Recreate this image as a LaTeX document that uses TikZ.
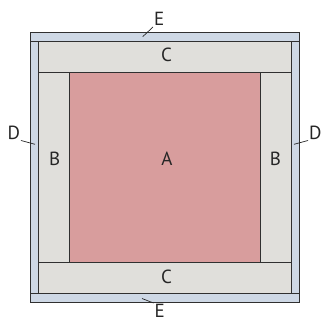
\documentclass[tikz,border=0pt]{standalone}
\usepackage{fontspec}
\setmainfont{PT Sans}
\usetikzlibrary{positioning}
\definecolor{frameblue}{HTML}{CED8E5}
\definecolor{stripgray}{HTML}{E0DFDB}
\definecolor{corepink}{HTML}{D89D9D}
\definecolor{edgegray}{HTML}{303030}

\begin{document}
\begin{tikzpicture}[x=1pt, y=-1pt,
  part/.style={draw=edgegray, line width=0.9pt, inner sep=0pt, outer sep=0pt},
  lbl/.style={font=\fontsize{19}{19}\selectfont, text=black!85, inner sep=0.8pt},
  leader/.style={draw=black!85, line width=0.7pt}]

\useasboundingbox (0,0) rectangle (324,320);

% -------- Outer strips (E, D) --------
\node[part, fill=frameblue, minimum width=269pt, minimum height=9pt] (Etop) at (164.5,36.5) {};
\node[part, fill=frameblue, minimum width=269pt, minimum height=9pt] (Ebot) at (164.5,297.5) {};
\node[part, fill=frameblue, minimum width=8.7pt, minimum height=252pt] (Dleft) at (34.35,167) {};
\node[part, fill=frameblue, minimum width=8pt, minimum height=252pt] (Dright) at (295,167) {};

% -------- Bands (C, B) --------
\node[part, fill=stripgray, minimum width=252.3pt, minimum height=31.7pt] (Ctop) at (164.85,56.85) {};
\node[part, fill=stripgray, minimum width=252.3pt, minimum height=31pt] (Cbot) at (164.85,277.5) {};
\node[part, fill=stripgray, minimum width=31pt, minimum height=189.3pt] (Bleft) at (54.2,167.35) {};
\node[part, fill=stripgray, minimum width=31pt, minimum height=189.3pt] (Bright) at (275.5,167.35) {};

% -------- Core (A) --------
\node[part, fill=corepink, minimum width=190.3pt, minimum height=189.3pt] (Acore) at (164.85,167.35) {};

% -------- Inner labels --------
\node[lbl] (Ctoplbl) at (166.5,55) {C};
\node[lbl] (Cbotlbl) at (166.5,277) {C};
\node[lbl] (Bleftlbl) at (54.7,159) {B};
\node[lbl] (Brightlbl) at (275.5,159) {B};
\node[lbl] (Acorelbl) at (167,159) {A};

% -------- Outer labels with leaders --------
\coordinate (Etoptip) at (142.7,36.7);
\coordinate (Ebottip) at (142,298.5);
\coordinate (Dlefttip) at (35,144.3);
\coordinate (Drighttip) at (294,144.3);

\node[lbl, anchor=south west] (Etoplbl) at (153,27) {E};
\node[lbl, anchor=north west] (Ebotlbl) at (153.5,303) {E};
\node[lbl, anchor=south east] (Dleftlbl) at (21,140.5) {D};
\node[lbl, anchor=south west] (Drightlbl) at (308,140.5) {D};

\draw[leader] (Etoptip) -- (Etoplbl.south west);
\draw[leader] (Ebottip) -- (Ebotlbl.north west);
\draw[leader] (Dlefttip) -- (Dleftlbl.south east);
\draw[leader] (Drighttip) -- (Drightlbl.south west);

\end{tikzpicture}
\end{document}
